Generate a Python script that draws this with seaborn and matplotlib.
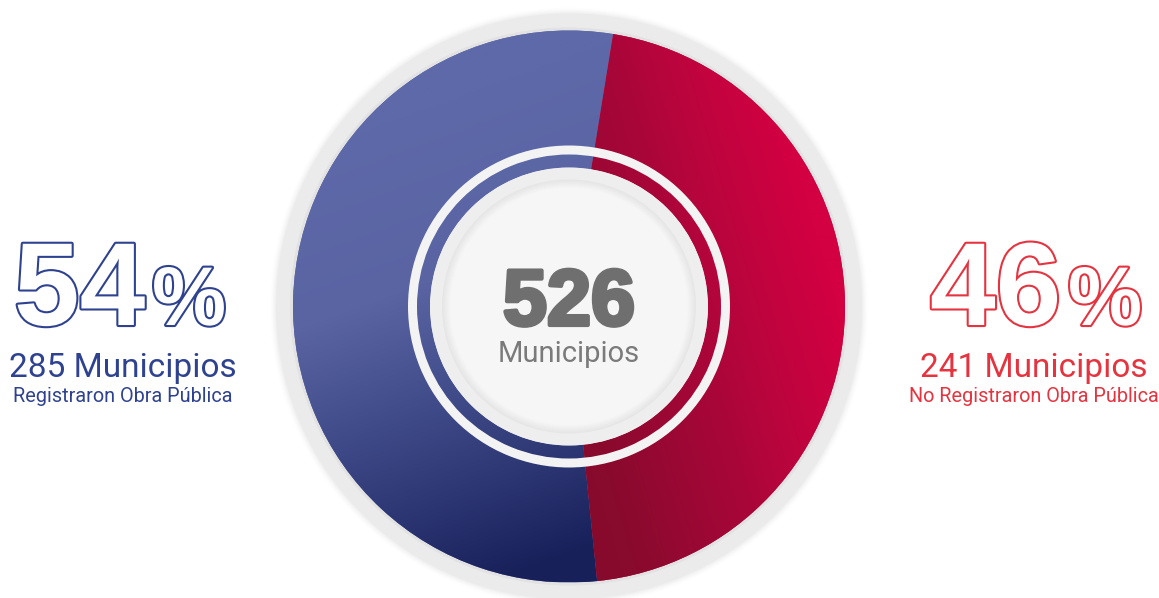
import numpy as np
import matplotlib
matplotlib.use("Agg")
import matplotlib.pyplot as plt
import matplotlib.patheffects as pe
from matplotlib.colors import LinearSegmentedColormap
from matplotlib.patches import Circle, Wedge
import seaborn as sns

# datos
categorias = ["Registraron Obra Pública", "No Registraron Obra Pública"]
municipios = [285, 241]
porcentajes = [54, 46]
total = 526
etiqueta_total = "Municipios"

azul = "#2E4290"
rojo = "#E5333F"
gris_texto = "#6F6F6F"

sns.set_style("white")
plt.rcParams["font.family"] = ["Liberation Sans", "DejaVu Sans"]

W, H = 1159, 598
fig = plt.figure(figsize=(W / 100, H / 100), dpi=100)
ax = fig.add_axes([0, 0, 1, 1])

cx, cy = 569, H - 306.5
R = 276
ancho = 137

wedges, _ = ax.pie(municipios, startangle=80.8, counterclock=True, center=(cx, cy), radius=R,
                   colors=["#5a64a3", "#b5053c"],
                   wedgeprops=dict(width=ancho, linewidth=0))
for w in wedges:
    w.set_zorder(2)

# pie() cambia los limites, se fijan despues
ax.set_xlim(0, W)
ax.set_ylim(0, H)
ax.set_aspect("equal")
ax.axis("off")

# aro exterior gris con sombra suave
for i, a in enumerate(np.linspace(0.05, 0.0, 6)):
    ax.add_patch(Circle((cx, cy), 294 + i, color="#cfcfcf", alpha=a + 0.02, lw=0, zorder=1))
ax.add_patch(Circle((cx, cy), 293, color="#ebebeb", lw=0, zorder=1))
ax.add_patch(Circle((cx, cy), 279, color="#e2e2e2", lw=0, zorder=1))

# degradados dentro de cada sector
gx = np.linspace(cx - R, cx + R, 600)
gy = np.linspace(cy - R, cy + R, 600)
X, Y = np.meshgrid(gx, gy)
u = (X - cx) / R
v = (Y - cy) / R

cmap_azul = LinearSegmentedColormap.from_list("az", [(0, "#5e69a9"), (0.35, "#5a64a3"),
                                                      (0.55, "#45508f"), (0.8, "#2c3672"),
                                                      (1, "#18205a")])
cmap_rojo = LinearSegmentedColormap.from_list("ro", [(0, "#d30042"), (0.2, "#b8053d"),
                                                      (0.3, "#a80639"), (0.55, "#890a2d"),
                                                      (1, "#7a0a28")])
t_azul = np.clip(0.5 + 0.2 * u - 0.55 * v, 0, 1)
t_rojo = np.clip(0.53 - 0.54 * u - 0.16 * v, 0, 1)
for w, cm, t in zip(wedges, [cmap_azul, cmap_rojo], [t_azul, t_rojo]):
    im = ax.imshow(cm(t), extent=(cx - R, cx + R, cy - R, cy + R), origin="lower",
                   interpolation="bilinear", zorder=3)
    im.set_clip_path(w)

ax.set_xlim(0, W)
ax.set_ylim(0, H)

# aro blanco interior y disco central
ax.add_patch(Wedge((cx, cy), 161, 0, 360, width=9, color="#f3f3f3", lw=0, zorder=4))
ax.add_patch(Circle((cx, cy), 139, color="#eeeeee", lw=0, zorder=4))
for r, c in zip(np.linspace(127, 119, 9), np.linspace(0.90, 0.965, 9)):
    ax.add_patch(Circle((cx, cy), r, color=(c, c, c), lw=0, zorder=5))
ax.add_patch(Circle((cx, cy), 118, color="#f6f6f6", lw=0, zorder=5))

# texto central
ax.text(cx, H - 325, str(total), ha="center", va="baseline", fontsize=57, fontweight="bold",
        color=gris_texto, zorder=6,
        path_effects=[pe.withStroke(linewidth=3, foreground=gris_texto)])
ax.text(cx, H - 362, etiqueta_total, ha="center", va="baseline", fontsize=21,
        family=["Roboto", "DejaVu Sans"], color="#7a7a7a", zorder=6)

# bloques laterales
lados = [dict(x_num=14, x_pct=152, xc=123, color=azul),
         dict(x_num=930, x_pct=1068, xc=1034, color=rojo)]
for cat, n, p, lado in zip(categorias, municipios, porcentajes, lados):
    col = lado["color"]
    contorno = [pe.withStroke(linewidth=3, foreground=col)]
    ax.text(lado["x_num"], H - 325, str(p), ha="left", va="baseline", fontsize=85,
            fontweight="bold", color="white", path_effects=contorno)
    ax.text(lado["x_pct"], H - 325, "%", ha="left", va="baseline", fontsize=60,
            fontweight="bold", color="white", path_effects=contorno)
    ax.text(lado["xc"], H - 377, f"{n} Municipios", ha="center", va="baseline", fontsize=24,
            family=["Roboto", "DejaVu Sans"], color=col)
    ax.text(lado["xc"], H - 402, cat, ha="center", va="baseline", fontsize=14.3,
            family=["Roboto", "DejaVu Sans"], color=col)

fig.savefig("out.png", dpi=100, facecolor="white")
